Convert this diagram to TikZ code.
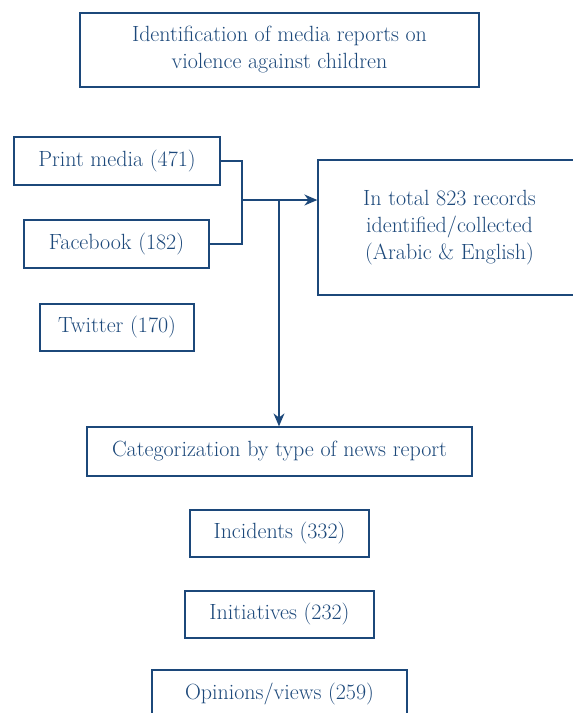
\documentclass[tikz,border=0pt]{standalone}
\usepackage{tikz}
\usetikzlibrary{arrows.meta}
\definecolor{navy}{RGB}{28,72,122}
\begin{document}
\begin{tikzpicture}[x=1pt,y=-1pt,>={Stealth[length=13pt,width=11pt]},
    box/.style={draw=navy,line width=1.3pt,text=navy,font=\fontsize{22}{27}\selectfont,align=center,inner sep=0pt},
    link/.style={draw=navy,line width=1.4pt}]
    \useasboundingbox (0,0) rectangle (573,713);
    \clip (0,0) rectangle (573,713);

    \node[box,minimum width=399pt,minimum height=74pt] (title)   at (279.5,50)  {Identification of media reports on\\violence against children};
    \node[box,minimum width=206pt,minimum height=48pt] (print)   at (117,161)   {Print media (471)};
    \node[box,minimum width=185pt,minimum height=48pt] (fb)      at (116.5,244) {Facebook (182)};
    \node[box,minimum width=154pt,minimum height=47pt] (twitter) at (117,327.5) {Twitter (170)};
    \node[box,minimum width=263pt,minimum height=135pt] (total)  at (449.5,227.5) {In total 823 records\\identified/collected\\(Arabic \& English)};
    \node[box,minimum width=385pt,minimum height=49pt] (cat)     at (279.5,451.5) {Categorization by type of news report};
    \node[box,minimum width=179pt,minimum height=47pt] (inc)     at (279.5,533.5) {Incidents (332)};
    \node[box,minimum width=189pt,minimum height=47pt] (ini)     at (279.5,614.5) {Initiatives (232)};
    \node[box,minimum width=255pt,minimum height=48pt] (opi)     at (279.5,694)   {Opinions/views (259)};

    \coordinate (join)  at (242,200);
    \coordinate (split) at (279,200);

    \draw[link] (print.east) -| (join) |- (fb.east);
    \draw[link,->] (join) -- (join -| total.west);
    \draw[link,->] (split) -- (split |- cat.north);
\end{tikzpicture}
\end{document}
